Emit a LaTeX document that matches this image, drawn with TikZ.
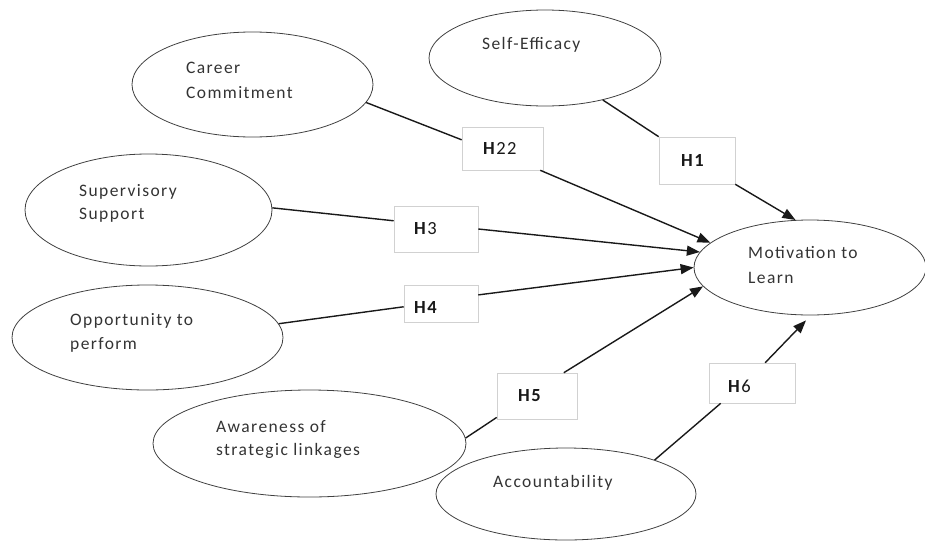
\documentclass[tikz,border=0pt]{standalone}
\usepackage{fontspec}
\setmainfont{Carlito}[LetterSpace=8]
\usetikzlibrary{arrows.meta,shapes.geometric}
\begin{document}
\begin{tikzpicture}[x=1pt,y=-1pt,
  ell/.style={draw=black!75, line width=0.8pt, ellipse, inner sep=0pt},
  hbox/.style={draw=black!18, line width=0.6pt, fill=white, rectangle, inner sep=0pt},
  txt/.style={anchor=base west, inner sep=0pt, text=black!80, font=\fontsize{17.5}{22}\selectfont},
  htxt/.style={anchor=base west, inner sep=0pt, text=black!90, font=\fontsize{18.5}{22}\selectfont},
  link/.style={line width=1.4pt, draw=black!90},
  arr/.style={line width=1.4pt, draw=black!90, -{Triangle[length=13pt,width=10pt]}}]
\useasboundingbox (0,0) rectangle (925,541);
% ellipses
\node[ell, minimum width=232, minimum height=96] (se) at (545,58) {};
\node[ell, minimum width=241, minimum height=105] (cc) at (252.5,84.5) {};
\node[ell, minimum width=247, minimum height=112] (ss) at (148.5,210) {};
\node[ell, minimum width=271, minimum height=105] (op) at (147.5,337.5) {};
\node[ell, minimum width=313, minimum height=107] (aw) at (309.5,443.5) {};
\node[ell, minimum width=260, minimum height=92] (ac) at (566,494) {};
\node[ell, minimum width=232, minimum height=95] (ml) at (810,267.5) {};
% texts
\node[txt] (se-t) at (482,49) {Self-Efficacy};
\node[txt] (cc-t1) at (186,73) {Career};
\node[txt] (cc-t2) at (186,98) {Commitment};
\node[txt] (ss-t1) at (79,196) {Supervisory};
\node[txt] (ss-t2) at (79,219) {Support};
\node[txt] (op-t1) at (70,325) {Opportunity to};
\node[txt] (op-t2) at (70,349) {perform};
\node[txt] (aw-t1) at (216,432) {Awareness of};
\node[txt] (aw-t2) at (216,455) {strategic linkages};
\node[txt] (ac-t) at (493,487) {Accountability};
\node[txt] (ml-t1) at (748,258) {Motivation to};
\node[txt] (ml-t2) at (748,283) {Learn};
% hypothesis boxes
\node[hbox, minimum width=81, minimum height=43] (h22) at (502.5,148.5) {};
\node[hbox, minimum width=76, minimum height=47] (h1) at (697,160.5) {};
\node[hbox, minimum width=84, minimum height=46] (h3) at (436,229) {};
\node[hbox, minimum width=74, minimum height=37] (h4) at (441,303.5) {};
\node[hbox, minimum width=80, minimum height=46] (h5) at (537,396) {};
\node[hbox, minimum width=86, minimum height=40] (h6) at (752,383) {};
\node[htxt] (h22-t) at (483,154) {\textbf{H}22};
\node[htxt] (h1-t) at (681,166) {\textbf{H1}};
\node[htxt] (h3-t) at (414,234) {\textbf{H}3};
\node[htxt] (h4-t) at (414,313) {\textbf{H4}};
\node[htxt] (h5-t) at (518,401) {\textbf{H5}};
\node[htxt] (h6-t) at (728,392) {\textbf{H}6};
% connectors
\draw[link] (cc.-9) -- (h22.168);
\draw[arr] (h22.-30) -- (ml.166);
\draw[link] (se.-36) -- (h1.north west);
\draw[arr] (h1.south east) -- (ml.107);
\draw[link] (ss.1) -- (h3.169);
\draw[arr] (h3.east) -- (ml.172);
\draw[link] (op.6) -- (h4.185);
\draw[arr] (h4.13) -- (ml.180);
\draw[link] (aw.2) -- (h5.208);
\draw[arr] (h5.41) -- (ml.190);
\draw[link] (ac.21) -- (h6.213);
\draw[arr, shorten >=7pt] (h6.57) -- (ml.-89);
\end{tikzpicture}
\end{document}
